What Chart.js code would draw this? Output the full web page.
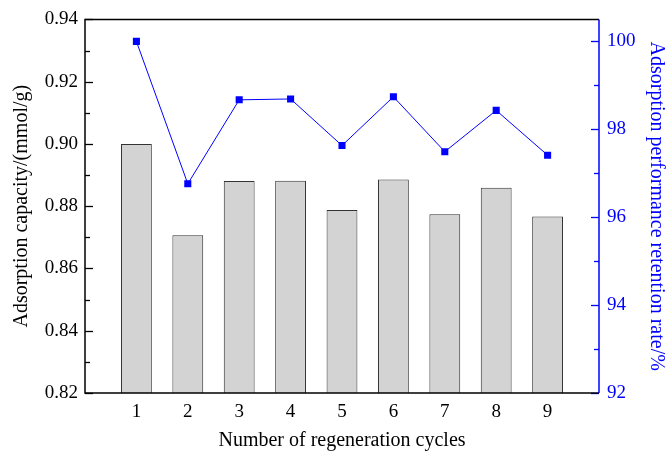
<!DOCTYPE html>
<html><head><meta charset="utf-8">
<script src="https://cdn.jsdelivr.net/npm/chart.js@4/dist/chart.umd.min.js"></script>
<style>html,body{margin:0;padding:0;background:#fff}#wrap{width:668px;height:457px}</style>
</head><body><div id="wrap"><canvas id="c" width="668" height="457"></canvas></div>
<script>
const cycles = [1, 2, 3, 4, 5, 6, 7, 8, 9];
const capacity = [0.900, 0.8707, 0.8881, 0.8882, 0.8788, 0.8886, 0.8774, 0.8859, 0.8767];
const retention = [100.0, 96.76, 98.67, 98.69, 97.63, 98.74, 97.49, 98.43, 97.41];
const leftTicks = [0.82, 0.84, 0.86, 0.88, 0.90, 0.92, 0.94];
const rightTicks = [92, 94, 96, 98, 100];

const FONT = "'Liberation Serif', 'Times New Roman', serif";
const BLUE = '#0000ff';

const tickPlugin = {
  id: 'inTicks',
  afterDatasetsDraw(chart) {
    const ctx = chart.ctx, a = chart.chartArea;
    const yl = chart.scales.y, yr = chart.scales.y2;
    ctx.save();
    ctx.lineWidth = 1.3;
    ctx.strokeStyle = '#000';
    for (let v = 0.82; v <= 0.9401; v += 0.01) {
      const major = Math.round(v * 100) % 2 === 0;
      const p = Math.round(yl.getPixelForValue(v)) + 0.5;
      ctx.beginPath(); ctx.moveTo(a.left, p); ctx.lineTo(a.left + (major ? 8 : 5), p); ctx.stroke();
    }
    ctx.strokeStyle = BLUE;
    for (let v = 92; v <= 100.01; v += 1) {
      const major = v % 2 === 0;
      const p = Math.round(yr.getPixelForValue(v)) + 0.5;
      ctx.beginPath(); ctx.moveTo(a.right, p); ctx.lineTo(a.right - (major ? 8 : 5), p); ctx.stroke();
    }
    // frame
    ctx.lineWidth = 1.5;
    ctx.strokeStyle = '#000';
    ctx.beginPath();
    ctx.moveTo(a.right, a.top); ctx.lineTo(a.left, a.top); ctx.lineTo(a.left, a.bottom); ctx.lineTo(a.right, a.bottom);
    ctx.stroke();
    ctx.strokeStyle = BLUE;
    ctx.beginPath(); ctx.moveTo(a.right, a.top); ctx.lineTo(a.right, a.bottom); ctx.stroke();
    ctx.restore();
  }
};

new Chart(document.getElementById('c'), {
  data: {
    datasets: [
      {
        type: 'line',
        label: 'retention',
        data: cycles.map((c, i) => ({x: c, y: retention[i]})),
        yAxisID: 'y2',
        borderColor: BLUE,
        borderWidth: 1,
        pointStyle: 'rect',
        pointRadius: 5,
        pointBackgroundColor: BLUE,
        pointBorderColor: BLUE,
        pointBorderWidth: 0,
        tension: 0,
        order: 0
      },
      {
        type: 'bar',
        label: 'capacity',
        data: cycles.map((c, i) => ({x: c, y: capacity[i]})),
        yAxisID: 'y',
        backgroundColor: '#d3d3d3',
        borderColor: '#333',
        borderWidth: 1,
        barPercentage: 0.6,
        categoryPercentage: 1,
        base: 0.82,
        order: 1
      }
    ]
  },
  options: {
    responsive: false,
    animation: false,
    layout: {padding: {top: 17, left: 0, right: 0, bottom: 0}},
    plugins: {legend: {display: false}, tooltip: {enabled: false}},
    scales: {
      x: {
        type: 'linear', min: 0, max: 10, offset: false,
        afterFit(s) { s.height = 64; },
        afterBuildTicks(s) { s.ticks = cycles.map(v => ({value: v})); },
        grid: {display: false, drawTicks: false},
        border: {display: false},
        ticks: {color: '#000', font: {family: FONT, size: 19}, padding: 8, autoSkip: false, maxRotation: 0},
        title: {display: true, text: 'Number of regeneration cycles', color: '#000', font: {family: FONT, size: 20}, padding: {top: 0, bottom: 4}}
      },
      y: {
        position: 'left', min: 0.82, max: 0.94,
        afterFit(s) { s.width = 85; },
        afterBuildTicks(s) { s.ticks = leftTicks.map(v => ({value: v})); },
        grid: {display: false, drawTicks: false},
        border: {display: false},
        ticks: {color: '#000', font: {family: FONT, size: 19}, padding: 7, callback: v => v.toFixed(2)},
        title: {display: true, text: 'Adsorption capacity/(mmol/g)', color: '#000', font: {family: FONT, size: 20}, padding: {top: 10, bottom: 0}}
      },
      y2: {
        position: 'right', min: 92, max: 100.5,
        afterFit(s) { s.width = 69; },
        afterBuildTicks(s) { s.ticks = rightTicks.map(v => ({value: v})); },
        grid: {display: false, drawTicks: false},
        border: {display: false},
        ticks: {color: BLUE, font: {family: FONT, size: 19}, padding: 8, callback: v => String(v)},
        title: {display: true, text: 'Adsorption performance retention rate/%', color: BLUE, font: {family: FONT, size: 20}, padding: {top: 0, bottom: 0}}
      }
    }
  },
  plugins: [tickPlugin]
});
</script></body></html>
